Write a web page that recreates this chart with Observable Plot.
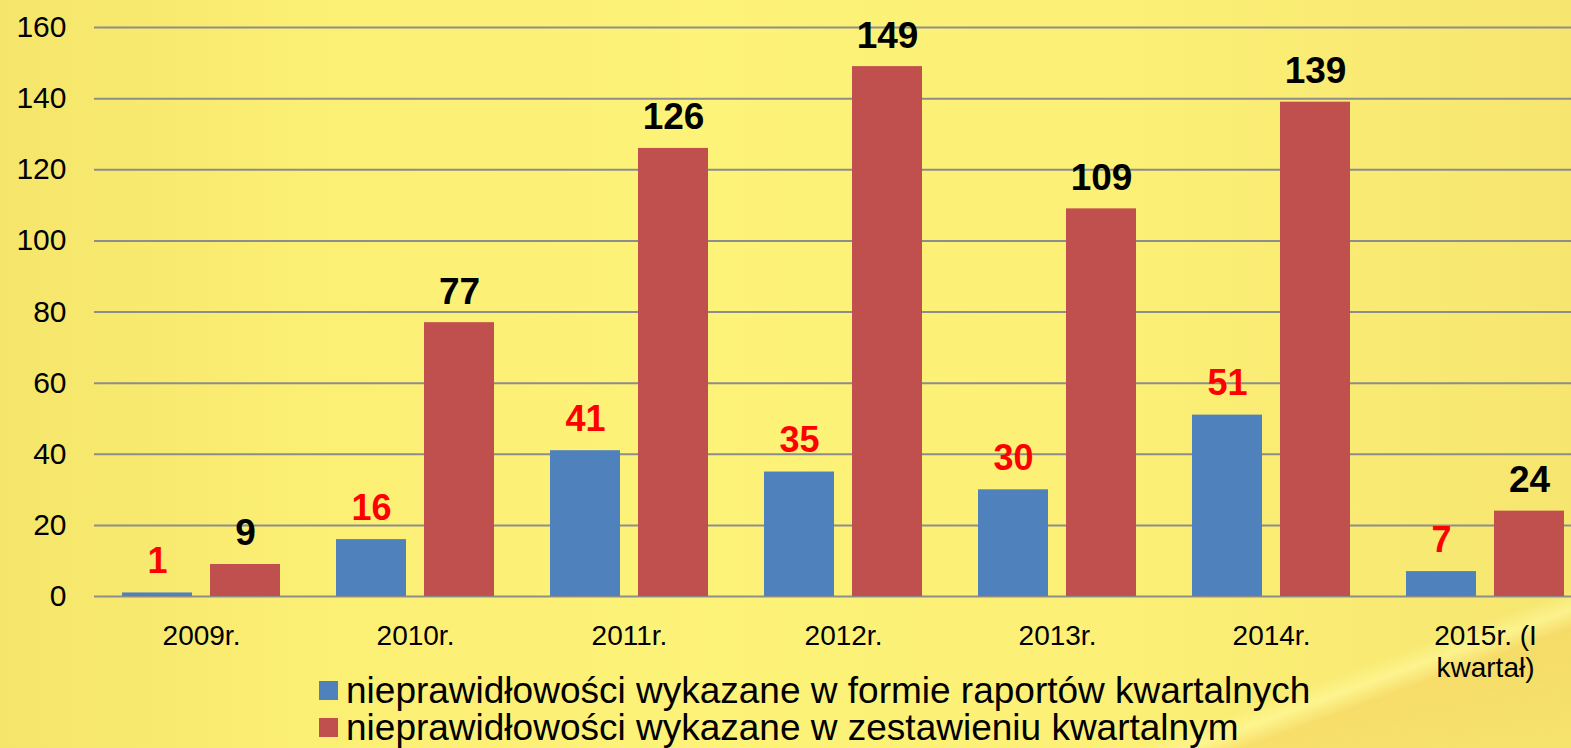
<!DOCTYPE html>
<html>
<head>
<meta charset="utf-8">
<script src="https://cdn.jsdelivr.net/npm/d3@7"></script>
<script src="https://cdn.jsdelivr.net/npm/@observablehq/plot@0.6"></script>
<style>
  html, body { margin: 0; padding: 0; }
  body {
    width: 1571px; height: 748px; overflow: hidden; position: relative;
    font-family: "Liberation Sans", Arial, sans-serif;
    background:
      linear-gradient(160deg, rgba(0,0,0,0) 88%, rgba(255,250,160,0.6) 89.5%, rgba(245,205,95,0.45) 91%, rgba(245,215,100,0.2) 100%),
      linear-gradient(90deg, #f5e56b 0%, #fbef74 20%, #fdf378 45%, #fcf076 70%, #f6e670 100%);
  }
  #chart svg { display: block; overflow: visible; }
  #legend { position: absolute; left: 319px; top: 672px; font-size: 37px; line-height: 37px; color: #000; }
  #legend .row { display: flex; align-items: center; white-space: nowrap; }
  #legend .sw { width: 19px; height: 19px; margin-right: 8px; flex: none; }
</style>
</head>
<body>
<div id="chart"></div>
<div id="legend"></div>
<script>
const categories = ["2009r.", "2010r.", "2011r.", "2012r.", "2013r.", "2014r.", "2015r. (I\nkwartał)"];
const seriesNames = [
  "nieprawidłowości wykazane w formie raportów kwartalnych",
  "nieprawidłowości wykazane w zestawieniu kwartalnym"
];
const raporty = [1, 16, 41, 35, 30, 51, 7];
const zestawienie = [9, 77, 126, 149, 109, 139, 24];
const seriesColors = ["#4f81bd", "#c0504d"];
const labelColors = ["#ff0000", "#000000"];
const yTicks = [0, 20, 40, 60, 80, 100, 120, 140, 160];

const data = [];
categories.forEach((c, i) => {
  data.push({cat: c, series: seriesNames[0], value: raporty[i]});
  data.push({cat: c, series: seriesNames[1], value: zestawienie[i]});
});

const plot = Plot.plot({
  width: 1571,
  height: 674,
  marginTop: 27,
  marginBottom: 78,
  marginLeft: 95,
  marginRight: 3,
  style: {background: "transparent", fontFamily: "Liberation Sans, Arial, sans-serif", overflow: "visible"},
  fx: {domain: categories, range: [94, 1592], paddingInner: 0.252, paddingOuter: 0.126, label: null},
  x: {domain: seriesNames, paddingInner: 0.202, paddingOuter: 0, axis: null},
  y: {domain: [0, 160], label: null},
  color: {domain: seriesNames, range: seriesColors},
  marks: [
    Plot.ruleY(yTicks, {y: d => d, stroke: "#8d8d8d", strokeWidth: 2, insetLeft: -27, insetRight: -27}),
    Plot.barY(data, {fx: "cat", x: "series", y: "value", fill: "series"}),
    Plot.text(data.filter(d => d.series === seriesNames[0]), {
      fx: "cat", x: "series", y: "value", text: d => String(d.value),
      fill: labelColors[0], fontWeight: "bold", fontSize: 36, lineAnchor: "bottom", dy: -20
    }),
    Plot.text(data.filter(d => d.series === seriesNames[1]), {
      fx: "cat", x: "series", y: "value", text: d => String(d.value),
      fill: labelColors[1], fontWeight: "bold", fontSize: 37, lineAnchor: "bottom", dy: -19
    }),
    Plot.axisY(yTicks, {anchor: "left", tickSize: 0, tickPadding: 55, fontSize: 30, label: null}),
    Plot.axisFx({anchor: "bottom", tickSize: 0, tickPadding: 26, fontSize: 28, lineHeight: 1.14, label: null})
  ]
});
document.getElementById("chart").appendChild(plot);

const legend = document.getElementById("legend");
seriesNames.forEach((name, i) => {
  const row = document.createElement("div");
  row.className = "row";
  const sw = document.createElement("span");
  sw.className = "sw";
  sw.style.background = seriesColors[i];
  const t = document.createElement("span");
  t.textContent = name;
  row.appendChild(sw);
  row.appendChild(t);
  legend.appendChild(row);
});
</script>
</body>
</html>
